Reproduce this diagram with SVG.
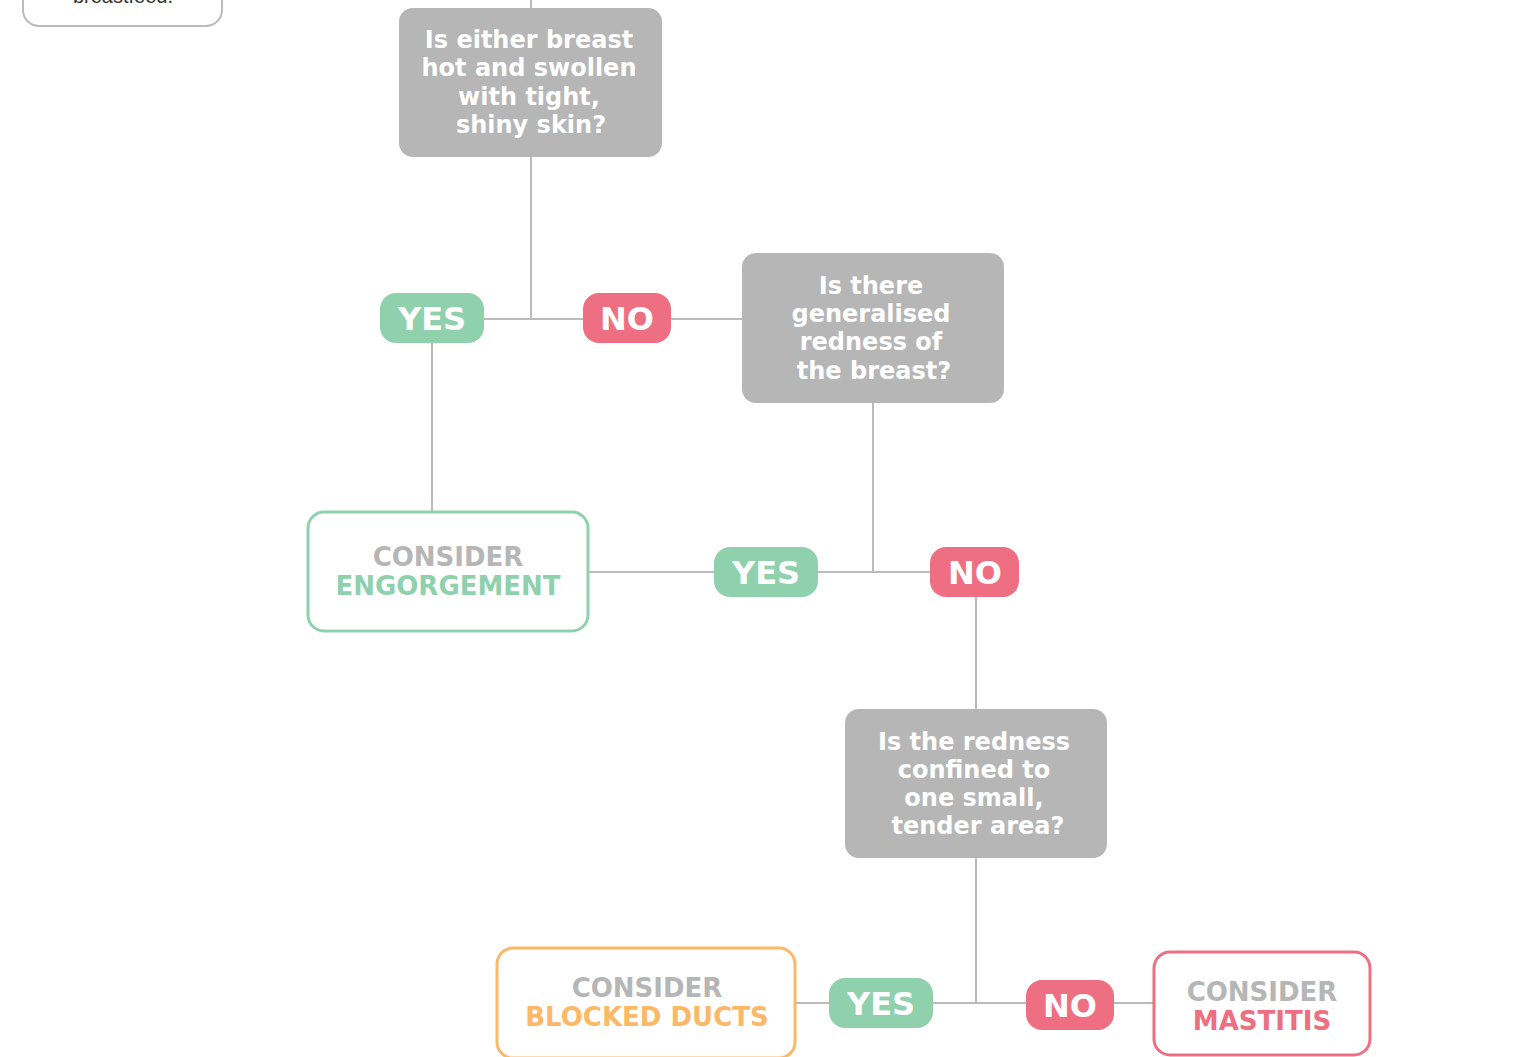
<svg xmlns="http://www.w3.org/2000/svg" width="1525" height="1057" viewBox="0 0 1525 1057">
<style>
.q{fill:#b5b6b5}
.qt{fill:#fff;font-family:"DejaVu Sans",sans-serif;font-weight:bold;font-size:24px;text-anchor:middle}
.yes{fill:#8fd1ad}
.no{fill:#ee6e82}
.pt{fill:#fff;font-family:"DejaVu Sans",sans-serif;font-weight:bold;font-size:32px;text-anchor:middle}
.res{fill:#fff;stroke-width:3}
.rt{font-family:"DejaVu Sans",sans-serif;font-weight:bold;font-size:26px;text-anchor:middle}
.c{fill:#b5b6b5}
.ln{stroke:#bbbbbb;stroke-width:2;fill:none}
</style>
<rect width="1525" height="1057" fill="#fff"/>
<g id="connectors">
<path class="ln" d="M531 0V8M531 157V319M484 319H583M671 319H742M432 343V512M873 403V572M589 572H714M818 572H930M976 597V709M976 858V1003M795 1003H829M933 1003H1026M1114 1003H1153"/>
</g>
<g id="start">
<rect x="23" y="-60" width="199" height="86" rx="16" fill="#fff" stroke="#bbbbbb" stroke-width="2"/>
<text x="123" y="3" style="font-family:'Liberation Sans',sans-serif;font-size:20px;text-anchor:middle" fill="#333">breastfeed.</text>
</g>
<g id="q1">
<rect class="q" x="399" y="8" width="263" height="149" rx="14"/>
<text class="qt" x="529" y="48">Is either breast</text>
<text class="qt" x="529" y="76">hot and swollen</text>
<text class="qt" x="529" y="105">with tight,</text>
<text class="qt" x="531" y="133">shiny skin?</text>
</g>
<g id="yes1"><rect class="yes" x="380" y="293" width="104" height="50" rx="16"/><text class="pt" x="432" y="330">YES</text></g>
<g id="no1"><rect class="no" x="583" y="293" width="88" height="50" rx="16"/><text class="pt" x="627" y="330">NO</text></g>
<g id="q2">
<rect class="q" x="742" y="253" width="262" height="150" rx="14"/>
<text class="qt" x="871" y="294">Is there</text>
<text class="qt" x="871" y="322">generalised</text>
<text class="qt" x="871" y="350">redness of</text>
<text class="qt" x="874" y="379">the breast?</text>
</g>
<g id="engorgement">
<rect class="res" x="308" y="512" width="280" height="119" rx="16" stroke="#8fd1ad"/>
<text class="rt c" x="448" y="566">CONSIDER</text>
<text class="rt" x="448" y="595" fill="#8fd1ad">ENGORGEMENT</text>
</g>
<g id="yes2"><rect class="yes" x="714" y="547" width="104" height="50" rx="16"/><text class="pt" x="766" y="584">YES</text></g>
<g id="no2"><rect class="no" x="930" y="547" width="89" height="50" rx="16"/><text class="pt" x="975" y="584">NO</text></g>
<g id="q3">
<rect class="q" x="845" y="709" width="262" height="149" rx="14"/>
<text class="qt" x="974" y="750">Is the redness</text>
<text class="qt" x="974" y="778">confined to</text>
<text class="qt" x="974" y="806">one small,</text>
<text class="qt" x="978" y="834">tender area?</text>
</g>
<g id="blocked">
<rect class="res" x="497" y="948" width="298" height="110" rx="16" stroke="#fbb867"/>
<text class="rt c" x="647" y="997">CONSIDER</text>
<text class="rt" x="647" y="1026" fill="#fbb867">BLOCKED DUCTS</text>
</g>
<g id="yes3"><rect class="yes" x="829" y="978" width="104" height="50" rx="16"/><text class="pt" x="881" y="1015">YES</text></g>
<g id="no3"><rect class="no" x="1026" y="980" width="88" height="50" rx="16"/><text class="pt" x="1070" y="1017">NO</text></g>
<g id="mastitis">
<rect class="res" x="1154" y="952" width="216" height="103" rx="16" stroke="#ee6e82"/>
<text class="rt c" x="1262" y="1001">CONSIDER</text>
<text class="rt" x="1262" y="1030" fill="#ee6e82">MASTITIS</text>
</g>
</svg>
